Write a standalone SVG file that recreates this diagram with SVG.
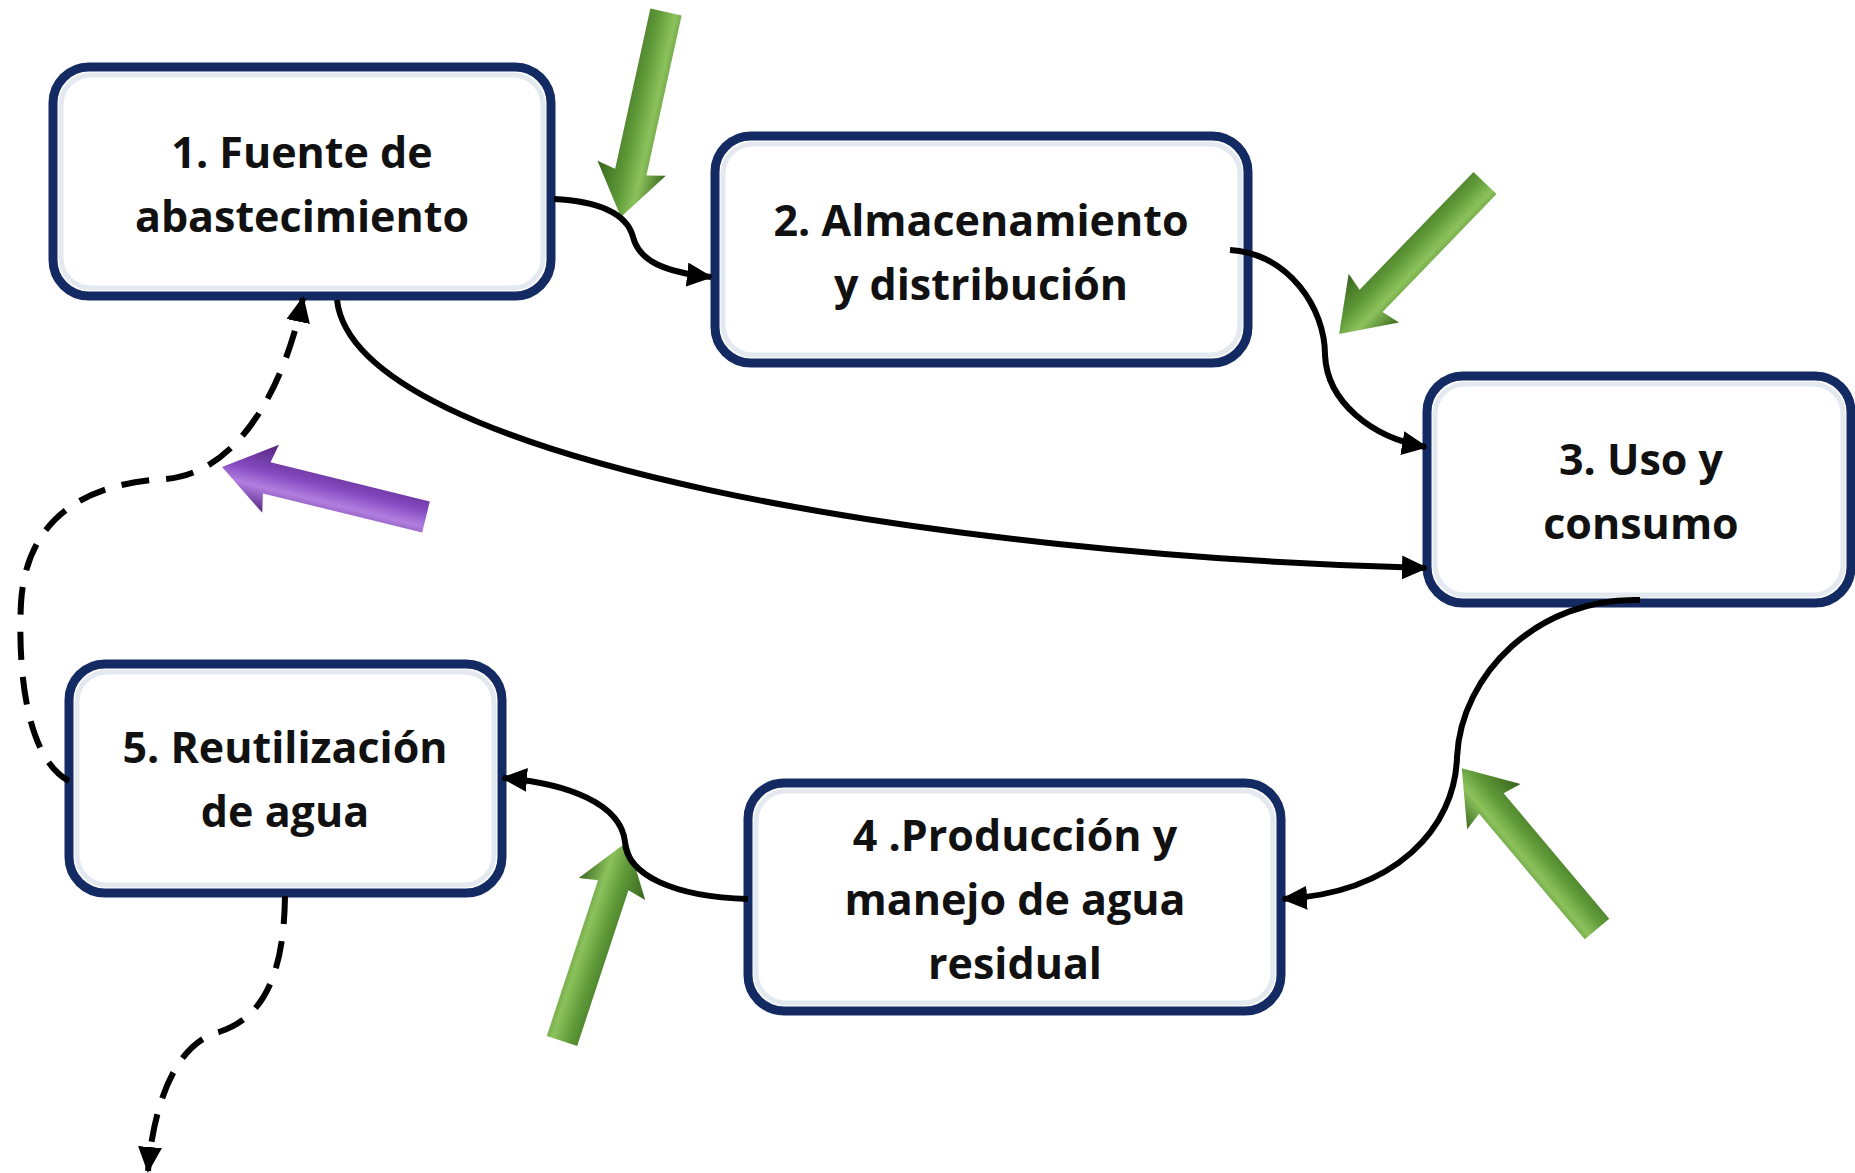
<svg xmlns="http://www.w3.org/2000/svg" width="1855" height="1173" viewBox="0 0 1855 1173">
<style>
.box{fill:#ffffff;stroke:#142a63;stroke-width:9}
.inner{fill:none;stroke:#e4e9f0;stroke-width:5}
.lbl{font-family:"Open Sans","Liberation Sans",sans-serif;font-weight:bold;font-size:43px;fill:#111111;text-anchor:middle}
.con{fill:none;stroke:#000000;stroke-width:6;stroke-linecap:butt}
.dash{stroke-dasharray:28 17}
</style>
<defs>
<marker id="ah" viewBox="0 0 26 24" refX="24" refY="12" markerWidth="26" markerHeight="24" markerUnits="userSpaceOnUse" orient="auto">
<path d="M0,0 L26,12 L0,24 Z" fill="#000000"/>
</marker>
<linearGradient id="gG" gradientUnits="userSpaceOnUse" x1="0" y1="-34" x2="0" y2="34">
<stop offset="0" stop-color="#3f6e23"/>
<stop offset="0.35" stop-color="#8cc25c"/>
<stop offset="0.6" stop-color="#5f9a38"/>
<stop offset="1" stop-color="#3a661f"/>
</linearGradient>
<linearGradient id="gP" gradientUnits="userSpaceOnUse" x1="0" y1="-34" x2="0" y2="34">
<stop offset="0" stop-color="#5a2a88"/>
<stop offset="0.35" stop-color="#b17ee0"/>
<stop offset="0.6" stop-color="#8448bf"/>
<stop offset="1" stop-color="#55277f"/>
</linearGradient>
<path id="blk" d="M0,-16 L164,-16 L160,-35 L210,0 L160,35 L164,16 L0,16 Z"/>
</defs>

<g id="arrow-green-1"><use href="#blk" fill="url(#gG)" transform="translate(666,12) rotate(102.4)"/></g>
<g id="arrow-green-2"><use href="#blk" fill="url(#gG)" transform="translate(1485,183) rotate(134)"/></g>
<g id="arrow-green-3"><use href="#blk" fill="url(#gG)" transform="translate(1597,929) rotate(229.9)"/></g>
<g id="arrow-green-4"><use href="#blk" fill="url(#gG)" transform="translate(562,1041) rotate(-71.8)"/></g>
<g id="arrow-purple"><use href="#blk" fill="url(#gP)" transform="translate(426,517) rotate(193.8)"/></g>

<g id="node1">
<rect class="box" x="53" y="67" width="498" height="229" rx="36"/>
<rect class="inner" x="61" y="75" width="482" height="213" rx="30"/>
<text class="lbl" x="302" y="168">1. Fuente de</text>
<text class="lbl" x="302" y="232">abastecimiento</text>
</g>
<g id="node2">
<rect class="box" x="715" y="136" width="533" height="227" rx="36"/>
<rect class="inner" x="723" y="144" width="517" height="211" rx="30"/>
<text class="lbl" x="981" y="236">2. Almacenamiento</text>
<text class="lbl" x="981" y="300">y distribución</text>
</g>
<g id="node3">
<rect class="box" x="1427" y="376" width="424" height="227" rx="36"/>
<rect class="inner" x="1435" y="384" width="408" height="211" rx="30"/>
<text class="lbl" x="1641" y="475">3. Uso y</text>
<text class="lbl" x="1641" y="539">consumo</text>
</g>
<g id="node4">
<rect class="box" x="748" y="783" width="533" height="228" rx="36"/>
<rect class="inner" x="756" y="791" width="517" height="212" rx="30"/>
<text class="lbl" x="1015" y="851">4 .Producción y</text>
<text class="lbl" x="1015" y="915">manejo de agua</text>
<text class="lbl" x="1015" y="979">residual</text>
</g>
<g id="node5">
<rect class="box" x="69" y="664" width="433" height="229" rx="36"/>
<rect class="inner" x="77" y="672" width="417" height="213" rx="30"/>
<text class="lbl" x="285" y="763">5. Reutilización</text>
<text class="lbl" x="285" y="827">de agua</text>
</g>

<g id="connectors">
<path class="con" d="M554,199 C597,201 627,213 633,237 C639,260 662,272 711,277" marker-end="url(#ah)"/>
<path class="con" d="M1230,250 C1289,254 1325,308 1325,355 C1327,402 1372,438 1426,447" marker-end="url(#ah)"/>
<path class="con" d="M337,300 C355,461 946,556 1426,568" marker-end="url(#ah)"/>
<path class="con" d="M1640,600 C1538,597 1461,674 1457,757 C1455,828 1396,893 1283,899" marker-end="url(#ah)"/>
<path class="con" d="M748,899 C674,897 627,875 625,842 C621,804 568,783 503,778" marker-end="url(#ah)"/>
<path class="con dash" d="M69,781 C24,757 18,662 21,603 C26,520 83,483 166,479 C237,473 284,390 303,298" marker-end="url(#ah)"/>
<path class="con dash" d="M285,896 C284,970 266,1017 219,1032 C177,1043 154,1100 148,1171" marker-end="url(#ah)"/>
</g>
</svg>
